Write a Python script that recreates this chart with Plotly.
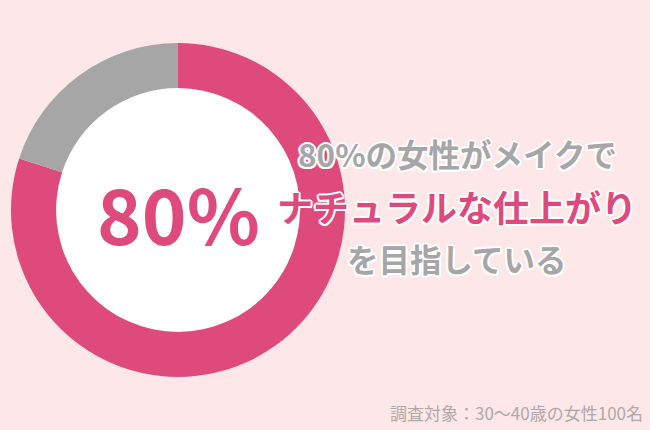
import plotly.graph_objects as go

# Survey result: share of women aiming for a natural makeup finish
labels = ['ナチュラルな仕上がり', 'その他']
values = [80, 20]
colors = ['#df4a7d', '#a6a6a6']

center_label = '80%'
headline = ['80%の女性がメイクで', 'ナチュラルな仕上がり', 'を目指している']
note = '調査対象：30〜40歳の女性100名'

bg = '#fde7e8'
pink = '#df4a7d'
grey = '#a6a6a6'
font = 'Noto Sans CJK JP'
outline = ('2px 0 0 #fff, -2px 0 0 #fff, 0 2px 0 #fff, 0 -2px 0 #fff, '
           '1.5px 1.5px 0 #fff, -1.5px -1.5px 0 #fff, 1.5px -1.5px 0 #fff, -1.5px 1.5px 0 #fff')

W, H = 650, 430
dom_x = [11 / W, 345 / W]
dom_y = [1 - 377 / H, 1 - 43 / H]

fig = go.Figure(go.Pie(
    labels=labels, values=values, hole=0.73, sort=False,
    direction='clockwise', rotation=0,
    marker=dict(colors=colors, line=dict(width=0)),
    textinfo='none', hoverinfo='label+percent',
    domain=dict(x=dom_x, y=dom_y), showlegend=False,
))

# white disc inside the ring
cx, cy = sum(dom_x) / 2, sum(dom_y) / 2
rx, ry = 0.73 * (dom_x[1] - dom_x[0]) / 2, 0.73 * (dom_y[1] - dom_y[0]) / 2
fig.add_shape(type='circle', xref='paper', yref='paper',
              x0=cx - rx, x1=cx + rx, y0=cy - ry, y1=cy + ry,
              fillcolor='white', line=dict(width=0), layer='below')


def label(text, x, y, size, color, shadow='none', xanchor='center'):
    fig.add_annotation(text=text, x=x / W, y=1 - y / H, xref='paper', yref='paper',
                       xanchor=xanchor, yanchor='middle', showarrow=False,
                       font=dict(family=font, size=size, color=color, shadow=shadow))


label(f'<b>{center_label}</b>', 178, 212, 76, pink)
label(f'<b>{headline[0]}</b>', 457, 153, 31.5, grey, outline)
label(f'<b>{headline[1]}</b>', 457, 206, 36, pink, outline)
label(f'<b>{headline[2]}</b>', 457, 258, 31.5, grey, outline)
label(note, 645, 412, 17, '#b0a8a8', xanchor='right')

fig.update_layout(
    width=W, height=H,
    margin=dict(l=0, r=0, t=0, b=0),
    paper_bgcolor=bg, plot_bgcolor=bg,
)

fig.write_html("out.html", config={'displayModeBar': False},
               post_script="document.body.style.margin='0';")
